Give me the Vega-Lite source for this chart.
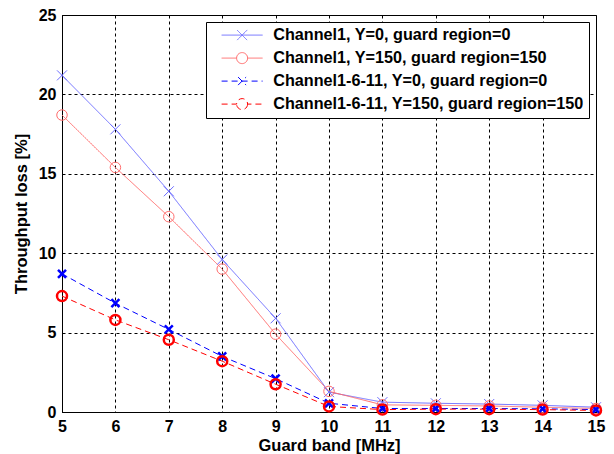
{
  "$schema": "https://vega.github.io/schema/vega-lite/v6.json",
  "width": 534,
  "height": 397,
  "autosize": "none",
  "padding": {"left": 62, "top": 15, "right": 18, "bottom": 42},
  "background": "white",
  "config": {
    "view": {"stroke": "black", "strokeWidth": 1},
    "font": "Liberation Sans",
    "axis": {
      "labelFont": "Liberation Sans",
      "labelFontWeight": "bold",
      "labelFontSize": 16,
      "labelColor": "black",
      "titleFont": "Liberation Sans",
      "titleFontWeight": "bold",
      "titleFontSize": 16.5,
      "titleColor": "black",
      "domainColor": "black",
      "tickColor": "black",
      "gridColor": "black",
      "gridOpacity": 1,
      "gridDash": [3, 3],
      "gridWidth": 1
    }
  },
  "data": {
    "values": [
      {"s": "A", "x": 5, "y": 21.2}, {"s": "A", "x": 6, "y": 17.8}, {"s": "A", "x": 7, "y": 13.9}, {"s": "A", "x": 8, "y": 9.6}, {"s": "A", "x": 9, "y": 5.9}, {"s": "A", "x": 10, "y": 1.25}, {"s": "A", "x": 11, "y": 0.62}, {"s": "A", "x": 12, "y": 0.55}, {"s": "A", "x": 13, "y": 0.5}, {"s": "A", "x": 14, "y": 0.42}, {"s": "A", "x": 15, "y": 0.3},
      {"s": "B", "x": 5, "y": 18.7}, {"s": "B", "x": 6, "y": 15.4}, {"s": "B", "x": 7, "y": 12.3}, {"s": "B", "x": 8, "y": 9.0}, {"s": "B", "x": 9, "y": 4.9}, {"s": "B", "x": 10, "y": 1.3}, {"s": "B", "x": 11, "y": 0.45}, {"s": "B", "x": 12, "y": 0.42}, {"s": "B", "x": 13, "y": 0.38}, {"s": "B", "x": 14, "y": 0.3}, {"s": "B", "x": 15, "y": 0.22},
      {"s": "C", "x": 5, "y": 8.7}, {"s": "C", "x": 6, "y": 6.85}, {"s": "C", "x": 7, "y": 5.2}, {"s": "C", "x": 8, "y": 3.5}, {"s": "C", "x": 9, "y": 2.1}, {"s": "C", "x": 10, "y": 0.55}, {"s": "C", "x": 11, "y": 0.22}, {"s": "C", "x": 12, "y": 0.22}, {"s": "C", "x": 13, "y": 0.22}, {"s": "C", "x": 14, "y": 0.2}, {"s": "C", "x": 15, "y": 0.15},
      {"s": "D", "x": 5, "y": 7.3}, {"s": "D", "x": 6, "y": 5.8}, {"s": "D", "x": 7, "y": 4.55}, {"s": "D", "x": 8, "y": 3.2}, {"s": "D", "x": 9, "y": 1.75}, {"s": "D", "x": 10, "y": 0.35}, {"s": "D", "x": 11, "y": 0.15}, {"s": "D", "x": 12, "y": 0.18}, {"s": "D", "x": 13, "y": 0.18}, {"s": "D", "x": 14, "y": 0.15}, {"s": "D", "x": 15, "y": 0.1}
    ]
  },
  "encoding": {
    "x": {"field": "x", "type": "quantitative", "title": "Guard band [MHz]",
      "scale": {"domain": [5, 15], "nice": false, "zero": false},
      "axis": {"values": [5,6,7,8,9,10,11,12,13,14,15], "tickSize": 0, "labelPadding": 6, "titlePadding": 3, "labelFlush": false}},
    "y": {"field": "y", "type": "quantitative", "title": "Throughput loss [%]",
      "scale": {"domain": [0, 25], "nice": false},
      "axis": {"values": [0,5,10,15,20,25], "tickSize": 0, "labelPadding": 6, "titlePadding": 9}}
  },
  "layer": [
    {
      "mark": {"type": "line"},
      "encoding": {
        "color": {"field": "s", "type": "nominal",
          "scale": {"domain": ["A","B","C","D"], "range": ["#6c6cff", "#ff6c6c", "#0000ff", "#ff0000"]},
          "legend": {
            "title": null,
            "orient": "top-right",
            "offset": 7,
            "padding": 5,
            "strokeColor": "black",
            "fillColor": "white",
            "labelFont": "Liberation Sans",
            "labelFontWeight": "bold",
            "labelFontSize": 16.2,
            "labelColor": "black",
            "labelLimit": 0,
            "labelOffset": 23,
            "symbolOffset": 23,
            "rowPadding": 6,
            "symbolSize": 100,
            "labelExpr": "datum.value == 'A' ? 'Channel1, Y=0, guard region=0' : datum.value == 'B' ? 'Channel1, Y=150, guard region=150' : datum.value == 'C' ? 'Channel1-6-11, Y=0, guard region=0' : 'Channel1-6-11, Y=150, guard region=150'",
            "encode": {
              "symbols": {
                "update": {
                  "shape": {"signal": "datum.value == 'A' ? 'M-4.1,0L4.1,0M-1,-1L1,1M-1,1L1,-1' : datum.value == 'C' ? 'M-4.1,0L4.1,0M-0.8,-0.8L0.8,0.8M-0.8,0.8L0.8,-0.8' : 'M-4.1,0L-1.1,0A1.1,1.1 0 1,1 1.1,0L4.1,0M1.1,0A1.1,1.1 0 1,1 -1.1,0'"},
                  "strokeDash": {"signal": "(datum.value == 'C' || datum.value == 'D') ? [5,3] : [1,0]"},
                  "strokeWidth": {"signal": "(datum.value == 'C' || datum.value == 'D') ? 2 : 1.2"},
                  "size": {"value": 100},
                  "fill": {"value": "transparent"},
                  "opacity": {"value": 1}
                }
              }
            }
          }
        },
        "strokeDash": {"field": "s", "type": "nominal", "scale": {"domain": ["A","B","C","D"], "range": [[1,0],[1,0],[6,4],[6,4]]}, "legend": null},
        "strokeWidth": {"field": "s", "type": "nominal", "scale": {"domain": ["A","B","C","D"], "range": [1, 1, 2.5, 2.5]}, "legend": null}
      }
    },
    {
      "transform": [{"filter": "datum.s == 'A'"}],
      "mark": {"type": "point", "filled": false, "opacity": 1, "shape": "M-1,-1L1,1M-1,1L1,-1", "size": 100, "stroke": "#6c6cff", "strokeWidth": 1}
    },
    {
      "transform": [{"filter": "datum.s == 'B'"}],
      "mark": {"type": "point", "filled": false, "opacity": 1, "shape": "circle", "size": 110, "stroke": "#ff6c6c", "strokeWidth": 1}
    },
    {
      "transform": [{"filter": "datum.s == 'C'"}],
      "mark": {"type": "point", "filled": false, "opacity": 1, "shape": "M-1,-1L1,1M-1,1L1,-1", "size": 64, "stroke": "#0000ff", "strokeWidth": 2.5}
    },
    {
      "transform": [{"filter": "datum.s == 'D'"}],
      "mark": {"type": "point", "filled": false, "opacity": 1, "shape": "circle", "size": 100, "stroke": "#ff0000", "strokeWidth": 2.5}
    }
  ]
}
